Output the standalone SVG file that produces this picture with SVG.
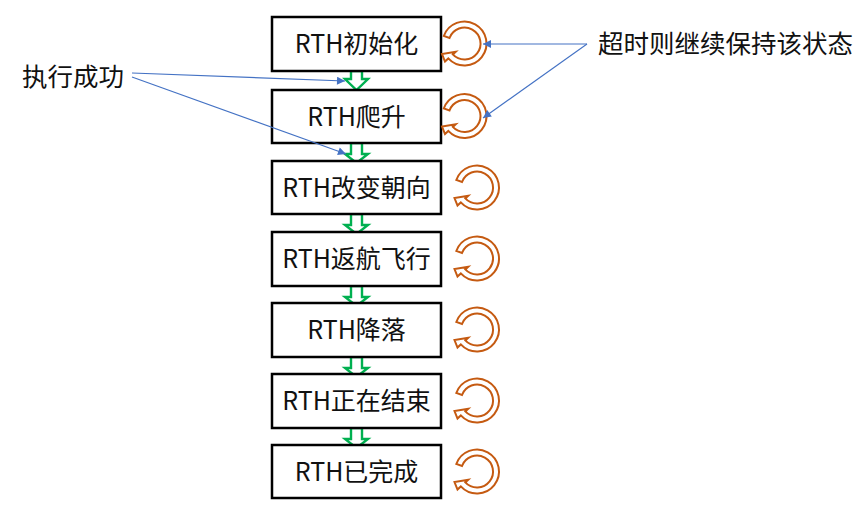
<svg xmlns="http://www.w3.org/2000/svg" width="867" height="508" viewBox="0 0 867 508">
<style>
.box{fill:#fff;stroke:#000;stroke-width:2.5}
.t{font-family:"Noto Sans CJK SC","Liberation Sans",sans-serif;font-size:25px;fill:#111;text-anchor:middle}
.lab{font-family:"Noto Sans CJK SC","Liberation Sans",sans-serif;font-size:25.5px;fill:#111}
.flow{fill:#fff;stroke:#00B050;stroke-width:2.4;stroke-linejoin:miter}
.loop{fill:#fff;stroke:#C55A11;stroke-width:2;stroke-linejoin:miter}
.blue{fill:none;stroke:#4472C4;stroke-width:1.1}
</style>
<defs>
<marker id="ah" viewBox="0 0 10 10" refX="10" refY="5" markerWidth="10" markerHeight="8" markerUnits="userSpaceOnUse" orient="auto">
<path d="M0,0 L10,5 L0,10 Z" fill="#4472C4"/>
</marker>
<path id="loopShape" class="loop" d="M -20.7,-7.5 A 22 22 0 1 1 -16.2,14.9 L -19.5,18 L -22.5,10.5 L -8.8,8.2 L -11.7,10.9 A 16 16 0 1 0 -15,-5.5 Z"/>
</defs>

<g id="flow-arrows">
<path class="flow" d="M351,71 h11 v8 h6 l-11.5,11 l-11.5,-11 h6 z"/>
<path class="flow" d="M351,143 h11 v11 h6 l-11.5,9 l-11.5,-9 h6 z"/>
<path class="flow" d="M351,214 h11 v11 h6 l-11.5,9 l-11.5,-9 h6 z"/>
<path class="flow" d="M351,286 h11 v11 h6 l-11.5,9 l-11.5,-9 h6 z"/>
<path class="flow" d="M351,357 h11 v11 h6 l-11.5,9 l-11.5,-9 h6 z"/>
<path class="flow" d="M351,428 h11 v11 h6 l-11.5,9 l-11.5,-9 h6 z"/>
</g>

<g id="n1"><rect class="box" x="272" y="17" width="169" height="54"/><text class="t" x="356.5" y="52.5">RTH初始化</text></g>
<g id="n2"><rect class="box" x="272" y="90" width="169" height="53"/><text class="t" x="356.5" y="125.5">RTH爬升</text></g>
<g id="n3"><rect class="box" x="272" y="161" width="169" height="53"/><text class="t" x="356.5" y="196.5">RTH改变朝向</text></g>
<g id="n4"><rect class="box" x="272" y="232" width="169" height="54"/><text class="t" x="356.5" y="267.5">RTH返航飞行</text></g>
<g id="n5"><rect class="box" x="272" y="303" width="169" height="54"/><text class="t" x="356.5" y="338.5">RTH降落</text></g>
<g id="n6"><rect class="box" x="272" y="374" width="169" height="54"/><text class="t" x="356.5" y="409.5">RTH正在结束</text></g>
<g id="n7"><rect class="box" x="272" y="445" width="169" height="53"/><text class="t" x="356.5" y="480.5">RTH已完成</text></g>

<g id="loops">
<use href="#loopShape" x="464.5" y="43.5"/>
<use href="#loopShape" x="464.5" y="116"/>
<use href="#loopShape" x="477" y="187.5"/>
<use href="#loopShape" x="477" y="258.5"/>
<use href="#loopShape" x="477" y="329.5"/>
<use href="#loopShape" x="477" y="400.5"/>
<use href="#loopShape" x="477" y="471.5"/>
</g>

<g id="label-success"><text class="lab" x="22" y="86">执行成功</text></g>
<g id="label-timeout"><text class="lab" x="598" y="53">超时则继续保持该状态</text></g>

<g id="connectors">
<line class="blue" x1="132" y1="73" x2="345" y2="81" marker-end="url(#ah)"/>
<line class="blue" x1="132" y1="77" x2="346" y2="154" marker-end="url(#ah)"/>
<line class="blue" x1="587" y1="44" x2="483" y2="44" marker-end="url(#ah)"/>
<line class="blue" x1="587" y1="44" x2="483" y2="118" marker-end="url(#ah)"/>
</g>
</svg>
